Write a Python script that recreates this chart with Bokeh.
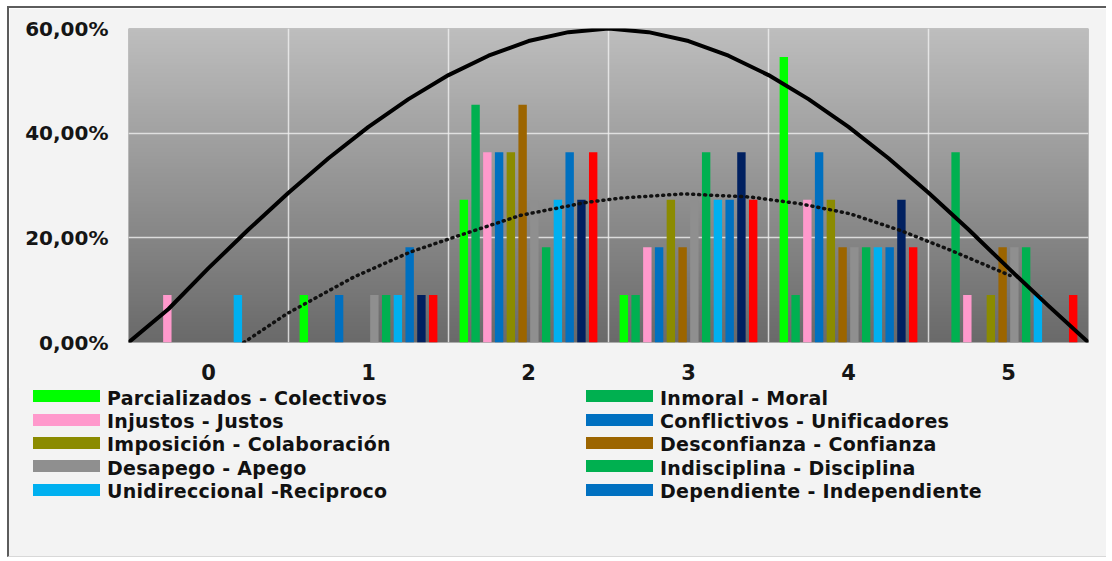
import numpy as np
from bokeh.plotting import figure
from bokeh.layouts import column
from bokeh.models import FixedTicker, ColumnDataSource, Div
from bokeh.transform import dodge
from bokeh.embed import file_html
from bokeh.resources import INLINE

# ---------------- data ----------------
categories = [0, 1, 2, 3, 4, 5]
x_tick_labels = ["0", "1", "2", "3", "4", "5"]
y_ticks = [0, 20, 40, 60]
y_tick_labels = ["0,00%", "20,00%", "40,00%", "60,00%"]

parcializados = [0, 9.09, 27.27, 9.09, 54.55, 0]
inmoral = [0, 0, 45.45, 9.09, 9.09, 36.36]
injustos = [9.09, 0, 36.36, 18.18, 27.27, 9.09]
conflictivos = [0, 9.09, 36.36, 18.18, 36.36, 0]
imposicion = [0, 0, 36.36, 27.27, 27.27, 9.09]
desconfianza = [0, 0, 45.45, 18.18, 18.18, 18.18]
desapego = [0, 9.09, 27.27, 27.27, 18.18, 18.18]
indisciplina = [0, 9.09, 18.18, 36.36, 18.18, 18.18]
unidireccional = [9.09, 9.09, 27.27, 27.27, 18.18, 9.09]
dependiente = [0, 18.18, 36.36, 27.27, 18.18, 0]
serie_11 = [0, 9.09, 27.27, 36.36, 27.27, 0]
serie_12 = [0, 9.09, 36.36, 27.27, 18.18, 9.09]

series_names = [
    "Parcializados - Colectivos", "Inmoral - Moral",
    "Injustos - Justos", "Conflictivos - Unificadores",
    "Imposición - Colaboración", "Desconfianza - Confianza",
    "Desapego - Apego", "Indisciplina - Disciplina",
    "Unidireccional -Reciproco", "Dependiente - Independiente",
]

# curves (x in category units, y in %)
curve_solid_x = [-0.5, -0.25, 0.0, 0.25, 0.5, 0.75, 1.0, 1.25, 1.5, 1.75, 2.0, 2.25,
                 2.5, 2.75, 3.0, 3.25, 3.5, 3.75, 4.0, 4.25, 4.5, 4.75, 5.0, 5.25, 5.5]
curve_solid_y = [0, 6.4, 14.2, 21.6, 28.6, 35.2, 41.2, 46.5, 51.1, 54.8, 57.6, 59.3,
                 60.0, 59.3, 57.6, 54.8, 51.1, 46.5, 41.2, 35.2, 28.6, 21.6, 14.2, 7.0, 0]
curve_dotted_x = [0.22, 0.49, 0.908, 1.2625, 1.533, 1.95, 2.367, 2.575, 2.97,
                  3.3875, 3.7, 4.01, 4.325, 4.64, 5.01]
curve_dotted_y = [0, 5.5, 12.5, 17.3, 20.1, 24.3, 26.8, 27.6, 28.4,
                  27.8, 26.5, 24.6, 21.4, 17.6, 12.8]

# ---------------- styling ----------------
series = [parcializados, inmoral, injustos, conflictivos, imposicion, desconfianza,
          desapego, indisciplina, unidireccional, dependiente, serie_11, serie_12]
colors = ["#00FF00", "#00B050", "#FF99CC", "#0070C0", "#8B8B00", "#9C6500",
          "#8F8F8F", "#00B050", "#00B0F0", "#0070C0", "#002060", "#FF0000"]
FONT = "DejaVu Sans"
PANEL = "#f3f3f3"

# ---------- main chart ----------
p = figure(width=1097, height=380, x_range=(-0.5, 5.5), y_range=(0, 60),
           output_backend="svg", toolbar_location=None,
           min_border_left=119, min_border_right=18, min_border_top=20,
           min_border_bottom=46, border_fill_color=PANEL,
           background_fill_color="#8a8a8a", outline_line_color=None)

# vertical gradient background of the plot area
n = 160
t = np.linspace(0.0, 1.0, n)
bot = np.array([0x6A, 0x6A, 0x6A], dtype=float)
top = np.array([0xBE, 0xBE, 0xBE], dtype=float)
rgb = bot[None, :] + (top - bot)[None, :] * t[:, None]
img = np.zeros((n, 1), dtype=np.uint32)
view = img.view(dtype=np.uint8).reshape((n, 1, 4))
view[:, 0, 0] = rgb[:, 0].astype(np.uint8)
view[:, 0, 1] = rgb[:, 1].astype(np.uint8)
view[:, 0, 2] = rgb[:, 2].astype(np.uint8)
view[:, 0, 3] = 255
p.image_rgba(image=[img], x=-0.5, y=0, dw=6, dh=60, level="image")

# grids
p.xgrid.ticker = FixedTicker(ticks=[-0.5, 0.5, 1.5, 2.5, 3.5, 4.5, 5.5])
p.ygrid.ticker = FixedTicker(ticks=y_ticks)
for g in (p.xgrid, p.ygrid):
    g.grid_line_color = "#f0f0f0"
    g.grid_line_alpha = 0.8
    g.grid_line_width = 1.5

# bars
step = 11.76 / 160.0
bw = 8.4 / 160.0
for i, (vals, col) in enumerate(zip(series, colors)):
    src = ColumnDataSource(dict(x=categories, top=vals))
    p.vbar(x=dodge("x", (i - 5.5) * step, range=p.x_range), top="top", bottom=0,
           width=bw, source=src, fill_color=col, line_color=None)

# curves
p.line(curve_solid_x, curve_solid_y, line_color="black", line_width=4, line_cap="round",
       line_join="round")
p.line(curve_dotted_x, curve_dotted_y, line_color="#111111", line_width=3.5,
       line_dash="1 5", line_cap="round")

# axes
p.xaxis.ticker = FixedTicker(ticks=categories)
p.xaxis.major_label_overrides = dict(zip(categories, x_tick_labels))
p.yaxis.ticker = FixedTicker(ticks=y_ticks)
p.yaxis.major_label_overrides = dict(zip(y_ticks, y_tick_labels))
for ax in (p.xaxis, p.yaxis):
    ax.axis_line_color = None
    ax.major_tick_line_color = None
    ax.minor_tick_line_color = None
    ax.major_tick_out = 0
    ax.major_tick_in = 0
    ax.major_label_text_font = FONT
    ax.major_label_text_font_style = "bold"
    ax.major_label_text_color = "#151515"
p.xaxis.major_label_text_font_size = "21px"
p.yaxis.major_label_text_font_size = "20px"
p.xaxis.major_label_standoff = 21
p.yaxis.major_label_standoff = 20

# ---------- legend (two columns, first ten series; last two are cut off in the original) ----------
col_left = [24, 577]
row_top = [-2.4, 21.0, 44.4, 67.8, 91.2]
parts = []
for k, name in enumerate(series_names):
    c, r = k % 2, k // 2
    parts.append(
        f'<div style="position:absolute;left:{col_left[c]}px;top:{row_top[r]}px;'
        f'height:23px;line-height:23px;white-space:nowrap;">'
        f'<span style="display:inline-block;width:67px;height:12px;background:{colors[k]};'
        f'vertical-align:middle;margin-right:7px;position:relative;top:-2px;"></span>'
        f'<span style="vertical-align:middle;">{name}</span></div>'
    )
html = (f'<div style="position:relative;width:1097px;height:168px;background:{PANEL};'
        f'font-family:\'{FONT}\';font-weight:bold;font-size:19px;letter-spacing:0.3px;'
        f'color:#111111;">' + "".join(parts) + '</div>')
legend_div = Div(text=html, width=1097, height=168, margin=0,
                 styles={"background-color": PANEL, "overflow": "visible"})

layout = column(p, legend_div, spacing=0)
layout.styles = {"margin-left": "7px", "margin-top": "6px",
                 "border-top": "2px solid #5c5c5c", "border-left": "2px solid #5c5c5c",
                 "border-bottom": "1px solid #d8d8d8"}

open("out.html", "w").write(file_html(layout, INLINE))
